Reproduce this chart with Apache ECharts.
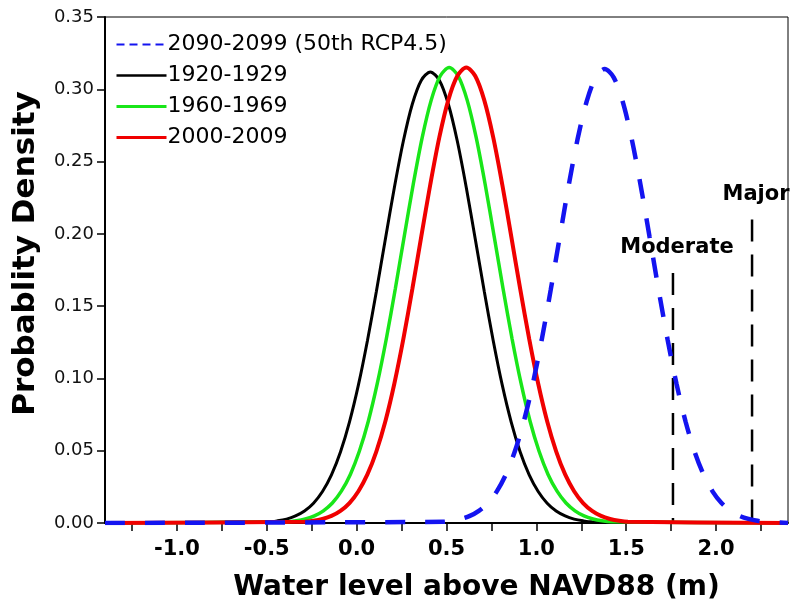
<!DOCTYPE html>
<html>
<head>
<meta charset="utf-8">
<script src="https://cdn.jsdelivr.net/npm/echarts@6/dist/echarts.min.js"></script>
<style>
html,body{margin:0;padding:0;background:#fff;}
#chart{width:790px;height:607px;}
</style>
</head>
<body>
<div id="chart"></div>
<script>
// ---- data ----
const seriesNames = ['2090-2099 (50th RCP4.5)', '1920-1929', '1960-1969', '2000-2009'];

const x1920 = [-1.4, -0.49, -0.44, -0.39, -0.34, -0.29, -0.24, -0.19, -0.14, -0.09, -0.04, 0.01, 0.06, 0.11, 0.16, 0.21, 0.26, 0.31, 0.36, 0.41, 0.46, 0.51, 0.56, 0.61, 0.66, 0.71, 0.76, 0.81, 0.86, 0.91, 0.96, 1.01, 1.06, 1.11, 1.16, 1.21, 1.26, 1.31, 2.4];
const y1920 = [0, 0.0008, 0.0015, 0.0027, 0.0049, 0.0083, 0.0137, 0.0218, 0.0333, 0.0491, 0.0698, 0.0955, 0.1261, 0.1603, 0.1965, 0.2321, 0.2642, 0.2898, 0.3063, 0.312, 0.3063, 0.2898, 0.2642, 0.2321, 0.1965, 0.1603, 0.1261, 0.0955, 0.0698, 0.0491, 0.0333, 0.0218, 0.0137, 0.0083, 0.0049, 0.0027, 0.0015, 0.0008, 0];

const x1960 = [-1.4, -0.385, -0.335, -0.285, -0.235, -0.185, -0.135, -0.085, -0.035, 0.015, 0.065, 0.115, 0.165, 0.215, 0.265, 0.315, 0.365, 0.415, 0.465, 0.515, 0.565, 0.615, 0.665, 0.715, 0.765, 0.815, 0.865, 0.915, 0.965, 1.015, 1.065, 1.115, 1.165, 1.215, 1.265, 1.315, 1.365, 1.415, 2.4];
const y1960 = [0, 0.0008, 0.0015, 0.0028, 0.0049, 0.0084, 0.0138, 0.0220, 0.0336, 0.0496, 0.0704, 0.0965, 0.1273, 0.1619, 0.1984, 0.2343, 0.2667, 0.2925, 0.3092, 0.315, 0.3092, 0.2925, 0.2667, 0.2343, 0.1984, 0.1619, 0.1273, 0.0965, 0.0704, 0.0496, 0.0336, 0.0220, 0.0138, 0.0084, 0.0049, 0.0028, 0.0015, 0.0008, 0];

const x2000 = [-1.4, -0.29, -0.24, -0.19, -0.14, -0.09, -0.04, 0.01, 0.06, 0.11, 0.16, 0.21, 0.26, 0.31, 0.36, 0.41, 0.46, 0.51, 0.56, 0.61, 0.66, 0.71, 0.76, 0.81, 0.86, 0.91, 0.96, 1.01, 1.06, 1.11, 1.16, 1.21, 1.26, 1.31, 1.36, 1.41, 1.46, 1.51, 2.4];
const y2000 = [0, 0.0008, 0.0015, 0.0028, 0.0049, 0.0084, 0.0138, 0.0220, 0.0336, 0.0496, 0.0704, 0.0965, 0.1273, 0.1619, 0.1984, 0.2343, 0.2667, 0.2925, 0.3092, 0.315, 0.3092, 0.2925, 0.2667, 0.2343, 0.1984, 0.1619, 0.1273, 0.0965, 0.0704, 0.0496, 0.0336, 0.0220, 0.0138, 0.0084, 0.0049, 0.0028, 0.0015, 0.0008, 0];

const x2090 = [-1.4, 0.48, 0.53, 0.58, 0.63, 0.68, 0.73, 0.78, 0.83, 0.88, 0.93, 0.98, 1.03, 1.08, 1.13, 1.18, 1.23, 1.28, 1.33, 1.38, 1.43, 1.48, 1.53, 1.58, 1.63, 1.68, 1.73, 1.78, 1.83, 1.88, 1.93, 1.98, 2.03, 2.08, 2.13, 2.18, 2.23, 2.28, 2.4];
const y2090 = [0, 0.0008, 0.0015, 0.0028, 0.0049, 0.0084, 0.0138, 0.0219, 0.0335, 0.0494, 0.0702, 0.0961, 0.1269, 0.1614, 0.1978, 0.2336, 0.2659, 0.2916, 0.3083, 0.314, 0.3083, 0.2916, 0.2659, 0.2336, 0.1978, 0.1614, 0.1269, 0.0961, 0.0702, 0.0494, 0.0335, 0.0219, 0.0138, 0.0084, 0.0049, 0.0028, 0.0015, 0.0008, 0];

const thresholdNames = ['Moderate', 'Major'];
const thresholdX = [1.76, 2.2];
const thresholdTop = [0.173, 0.21];

const xTickValues = [-1.25, -1.0, -0.75, -0.5, -0.25, 0, 0.25, 0.5, 0.75, 1.0, 1.25, 1.5, 1.75, 2.0, 2.25];
const xLabelValues = [-1.0, -0.5, 0, 0.5, 1.0, 1.5, 2.0];
const xMin = -1.4, xMax = 2.4;
const yMin = 0, yMax = 0.35, yStep = 0.05;

// ---- build ----
const pairs = (xs, ys) => xs.map((x, i) => [x, ys[i]]);
const FONT = 'DejaVu Sans';

const curveSeries = [
  {name: seriesNames[1], data: pairs(x1920, y1920), color: '#000000', width: 3, type: 'solid'},
  {name: seriesNames[2], data: pairs(x1960, y1960), color: '#19e619', width: 3.5, type: 'solid'},
  {name: seriesNames[3], data: pairs(x2000, y2000), color: '#f00000', width: 4, type: 'solid'},
  {name: seriesNames[0], data: pairs(x2090, y2090), color: '#1414f0', width: 4.5, type: [20, 20]}
].map(s => ({
  name: s.name,
  type: 'line',
  data: s.data,
  smooth: 0.3,
  symbol: 'none',
  color: s.color,
  lineStyle: {color: s.color, width: s.width, type: s.type},
  silent: true
}));

const thresholdSeries = thresholdNames.map((n, i) => ({
  name: n,
  type: 'line',
  symbol: 'circle',
  symbolSize: 1,
  showSymbol: true,
  itemStyle: {color: 'rgba(0,0,0,0)'},
  silent: true,
  lineStyle: {color: '#000', width: 2.5, type: [22, 13]},
  label: {show: false},
  data: [
    {value: [thresholdX[i], thresholdTop[i]],
     label: {show: true, position: 'top', distance: 14, offset: [4, 0], formatter: n,
             fontFamily: FONT, fontWeight: 'bold', fontSize: 21, color: '#000'}},
    {value: [thresholdX[i], 0]}
  ],
  z: 1
}));

const chart = echarts.init(document.getElementById('chart'), null, {renderer: 'canvas'});
chart.setOption({
  animation: false,
  backgroundColor: '#fff',
  grid: {left: 105, right: 2, top: 17, bottom: 84, show: true, borderColor: '#000', borderWidth: 1, backgroundColor: 'transparent'},
  legend: {
    orient: 'vertical', left: 110, top: 28,
    itemWidth: 50, itemHeight: 14, itemGap: 8,
    itemStyle: {opacity: 0},
    data: [
      {name: seriesNames[0], lineStyle: {width: 2, type: [8, 5]}},
      {name: seriesNames[1], lineStyle: {width: 2.5}},
      {name: seriesNames[2], lineStyle: {width: 3}},
      {name: seriesNames[3], lineStyle: {width: 3}}
    ],
    textStyle: {fontFamily: FONT, fontSize: 22, color: '#000', lineHeight: 23, padding: [0,0,0,-4]},
    selectedMode: false
  },
  xAxis: {
    type: 'value', min: xMin, max: xMax,
    name: 'Water level above NAVD88 (m)', nameLocation: 'middle', nameGap: 51,
    nameTextStyle: {fontFamily: FONT, fontWeight: 'bold', fontSize: 28, color: '#000', padding: [0, 0, 0, 60]},
    axisLine: {show: true, onZero: false, lineStyle: {color: '#000', width: 2}},
    axisTick: {show: true, inside: false, length: 8, customValues: xTickValues, lineStyle: {color: '#000', width: 1.5}},
    axisLabel: {customValues: xLabelValues, margin: 16, fontFamily: FONT, fontWeight: 'bold', fontSize: 21, color: '#000',
      formatter: v => v.toFixed(1)},
    splitLine: {show: false}
  },
  yAxis: {
    type: 'value', min: yMin, max: yMax, interval: yStep,
    name: 'Probablity Density', nameLocation: 'middle', nameGap: 64, nameRotate: 90,
    nameTextStyle: {fontFamily: FONT, fontWeight: 'bold', fontSize: 31, color: '#000', padding: [0, 0, 0, 33]},
    axisLine: {show: true, onZero: false, lineStyle: {color: '#000', width: 2}},
    axisTick: {show: true, inside: false, length: 8, lineStyle: {color: '#000', width: 1.5}},
    axisLabel: {margin: 11, fontFamily: FONT, fontSize: 18, color: '#111', formatter: v => v.toFixed(2)},
    splitLine: {show: false}
  },
  series: thresholdSeries.concat(curveSeries)
});
</script>
</body>
</html>
